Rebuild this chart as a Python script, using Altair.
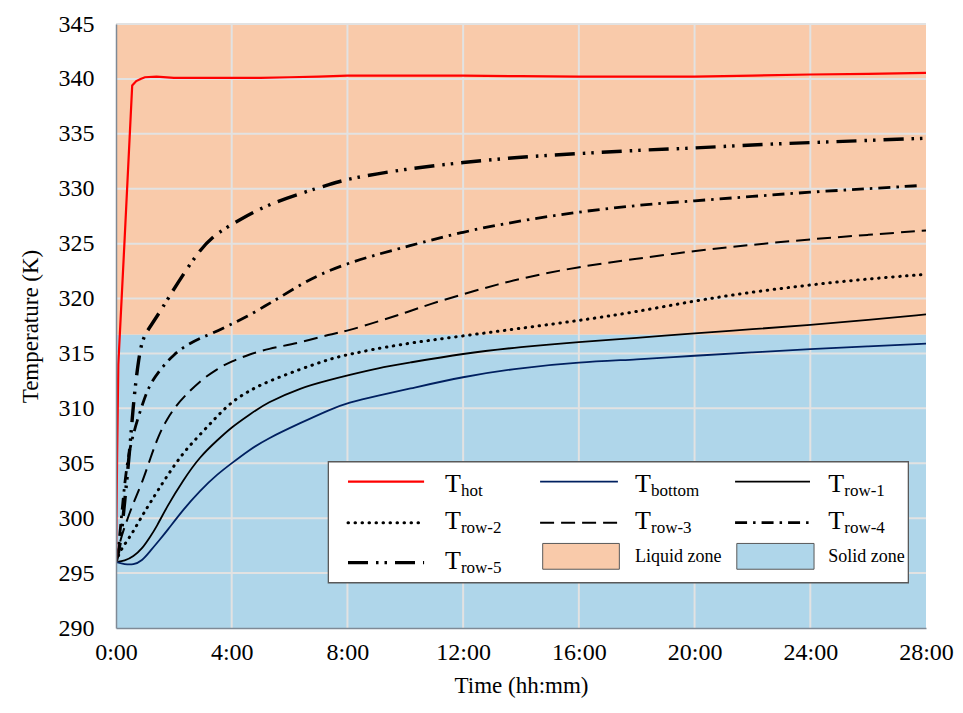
import altair as alt
import pandas as pd

# ---------------- data ----------------
x_ticks = [0, 4, 8, 12, 16, 20, 24, 28]
y_ticks = [290, 295, 300, 305, 310, 315, 320, 325, 330, 335, 340, 345]
x_grid = [4, 8, 12, 16, 20, 24]
y_grid = [295, 300, 305, 310, 315, 320, 325, 330, 335, 340, 345]

zone_names = ["Liquid zone", "Solid zone"]
zone_low = [316.7, 290.0]
zone_high = [345.0, 316.7]

hot_t = [0, 0.04, 0.08, 0.3, 0.56, 0.7, 0.85, 1.0, 1.4, 2, 3, 4, 5, 6, 7, 8, 10, 12, 14, 16, 18, 20, 22, 24, 26, 28]
hot_v = [296.0, 306.0, 314.0, 325.5, 339.4, 339.8, 340.0, 340.15, 340.2, 340.1, 340.1, 340.1, 340.1, 340.15,
         340.2, 340.3, 340.3, 340.3, 340.25, 340.2, 340.2, 340.2, 340.3, 340.4, 340.45, 340.55]

bottom_t = [0, 0.3, 0.6, 0.9, 1.18, 1.5, 1.75, 2.33, 2.9, 3.5, 4.0, 4.6, 5.2, 6.4, 7.4, 8, 9.1, 10, 12, 14, 16, 18, 20, 22, 24, 26, 28]
bottom_v = [296.0, 295.8, 295.75, 296.1, 297.0, 298.0, 298.8, 300.8, 302.5, 304.0, 305.0, 306.2, 307.2, 308.7,
            309.9, 310.5, 311.2, 311.7, 312.9, 313.7, 314.2, 314.45, 314.8, 315.1, 315.4, 315.65, 315.9]

row1_t = [0, 0.3, 0.6, 0.9, 1.18, 1.4, 1.75, 2.33, 2.9, 3.5, 4.0, 4.6, 5.2, 6.4, 7.4, 8, 9.1, 10, 12, 14, 16, 18, 20, 22, 24, 26, 28]
row1_v = [296.0, 296.1, 296.5, 297.2, 298.3, 299.2, 301.0, 303.5, 305.6, 307.1, 308.3, 309.4, 310.5, 311.9,
          312.6, 313.0, 313.7, 314.1, 315.0, 315.6, 316.05, 316.4, 316.85, 317.2, 317.6, 318.05, 318.55]

row2_t = [0, 0.14, 0.35, 0.6, 0.9, 1.18, 1.75, 2.33, 2.9, 3.5, 4.0, 4.6, 5.2, 6.4, 7.4, 8, 9.7, 12, 14.3, 16, 17.8, 20, 22, 24, 26, 28]
row2_v = [296.0, 297.0, 297.8, 298.8, 300.2, 301.4, 303.8, 306.0, 307.6, 309.3, 310.6, 311.6, 312.4, 313.6,
          314.5, 314.9, 315.8, 316.6, 317.4, 318.0, 318.7, 319.8, 320.6, 321.25, 321.8, 322.2]

row3_t = [0, 0.14, 0.35, 0.6, 0.9, 1.18, 1.45, 1.75, 2.1, 2.33, 2.9, 3.5, 4.0, 4.6, 5.2, 6.4, 7.4, 8, 9.1, 10,
          10.85, 12, 13.2, 14.3, 16, 17.8, 20, 22, 24, 26, 28]
row3_v = [296.0, 298.0, 299.6, 301.4, 303.2, 305.4, 307.4, 309.0, 310.3, 311.0, 312.5, 313.6, 314.3, 314.9,
          315.4, 316.0, 316.75, 317.05, 317.95, 318.7, 319.5, 320.4, 321.3, 322.0, 322.9, 323.55, 324.35,
          324.9, 325.4, 325.8, 326.2]

row4_t = [0, 0.1, 0.2, 0.37, 0.6, 0.94, 1.18, 1.64, 2.0, 2.4, 2.9, 3.4, 4.0, 4.5, 5.2, 5.6, 6.4, 7.05, 8, 9,
          10, 12, 14, 16, 18, 20, 22, 24, 26, 27.85]
row4_v = [296.0, 297.5, 300.5, 305.0, 307.8, 310.6, 312.3, 313.9, 314.9, 315.7, 316.4, 316.9, 317.7, 318.3,
          319.4, 320.0, 321.3, 322.2, 323.2, 324.0, 324.7, 326.1, 327.1, 327.9, 328.5, 328.9, 329.3, 329.7,
          330.0, 330.3]

row5_t = [0, 0.15, 0.3, 0.48, 0.6, 0.79, 0.94, 1.2, 1.64, 2.1, 2.9, 3.5, 4.3, 5.2, 6.4, 7.4, 8, 10, 12, 14,
          16, 18, 20, 22, 24, 26, 28]
row5_v = [296.0, 297.5, 301.5, 306.3, 310.5, 314.8, 316.5, 317.5, 319.3, 321.3, 324.5, 326.0, 327.2, 328.5,
          329.6, 330.4, 330.9, 331.8, 332.4, 332.9, 333.2, 333.5, 333.7, 334.0, 334.2, 334.4, 334.6]

# legend layout (in chart data units: hours / kelvin)
leg_box_x = [7.34, 27.39]
leg_box_y = [294.12, 305.14]
leg_col_x0 = [8.02, 14.66, 21.40]
leg_col_x1 = [10.65, 17.35, 23.99]
leg_col_lab = [11.37, 17.94, 24.62]
leg_row_y = [303.32, 299.59, 295.95]
leg_row_base = [302.35, 299.05, 295.4]
leg_patch_y = [295.35, 297.7]

# ---------------- styles ----------------
ORANGE = "#F9CAAA"
BLUE = "#AFD6EA"
FONT = "Liberation Serif"

series = [
    # key, times, values, subscript, legend col,row, color, width, dash, cap
    ("row-5", row5_t, row5_v, "row-5", 0, 2, "black", 3.4, [20, 8, 2.5, 6, 2.5, 8], "butt"),
    ("row-4", row4_t, row4_v, "row-4", 2, 1, "black", 2.8, [12, 6, 2.5, 6], "butt"),
    ("row-3", row3_t, row3_v, "row-3", 1, 1, "black", 2.0, [14, 7], "butt"),
    ("row-2", row2_t, row2_v, "row-2", 0, 1, "black", 3.0, [0.5, 6.5], "round"),
    ("row-1", row1_t, row1_v, "row-1", 2, 0, "black", 1.8, None, "butt"),
    ("bottom", bottom_t, bottom_v, "bottom", 1, 0, "#002060", 1.8, None, "butt"),
    ("hot", hot_t, hot_v, "hot", 0, 0, "#FF0000", 2.2, None, "butt"),
]

XS = alt.Scale(domain=[0, 28], nice=False, zero=False)
YS = alt.Scale(domain=[290, 345], nice=False, zero=False)
XAX = alt.Axis(values=x_ticks, labelExpr="datum.value + ':00'", title="Time (hh:mm)", grid=False,
               ticks=False, labelPadding=12, titlePadding=10, labelFlush=False, zindex=1,
               labelFont=FONT, titleFont=FONT, labelFontSize=24, titleFontSize=23)
YAX = alt.Axis(values=y_ticks, title="Temperature (K)", grid=False, ticks=False,
               labelPadding=22, titlePadding=16, zindex=1,
               labelFont=FONT, titleFont=FONT, labelFontSize=24, titleFontSize=23)


def X(f):
    return alt.X(f, type="quantitative", scale=XS, axis=XAX)


def Y(f):
    return alt.Y(f, type="quantitative", scale=YS, axis=YAX)


zone_color = alt.Color("zone:N", scale=alt.Scale(domain=zone_names, range=[ORANGE, BLUE]), legend=None)

# zones
zones_df = pd.DataFrame({"zone": zone_names, "x0": [x_ticks[0]] * 2, "x1": [x_ticks[-1]] * 2,
                         "lo": zone_low, "hi": zone_high})
zones = alt.Chart(zones_df).mark_rect(strokeWidth=0).encode(
    x=X("x0"), x2="x1", y=Y("lo"), y2="hi", color=zone_color)

# grid
xg = alt.Chart(pd.DataFrame({"x": x_grid})).mark_rule(color="#E2E2E2", strokeWidth=2).encode(x=X("x"))
yg = alt.Chart(pd.DataFrame({"y": y_grid})).mark_rule(color="#E2E2E2", strokeWidth=2).encode(y=Y("y"))

layers = [zones, xg, yg]

for key, ts, vs, sub, c, r, color, w, dash, cap in series:
    df = pd.DataFrame({"t": ts, "v": vs})
    kw = dict(color=color, strokeWidth=w, strokeCap=cap, clip=True)
    if dash:
        kw["strokeDash"] = dash
    interp = "linear" if key == "hot" else "basis"
    layers.append(alt.Chart(df).mark_line(interpolate=interp, **kw).encode(x=X("t"), y=Y("v")))

# legend box
box_df = pd.DataFrame({"x0": [leg_box_x[0]], "x1": [leg_box_x[1]], "y0": [leg_box_y[0]], "y1": [leg_box_y[1]]})
layers.append(alt.Chart(box_df).mark_rect(fill="white", stroke="#595959", strokeWidth=1.3).encode(
    x=X("x0"), x2="x1", y=Y("y0"), y2="y1"))

# legend samples
lab_rows = []
for key, ts, vs, sub, c, r, color, w, dash, cap in series:
    sdf = pd.DataFrame({"x0": [leg_col_x0[c]], "x1": [leg_col_x1[c]], "y": [leg_row_y[r]]})
    kw = dict(color=color, strokeWidth=w, strokeCap=cap)
    if dash:
        kw["strokeDash"] = dash
    layers.append(alt.Chart(sdf).mark_rule(**kw).encode(x=X("x0"), x2="x1", y=Y("y")))
    lab_rows.append({"x": leg_col_lab[c], "y": leg_row_base[r], "main": "T", "sub": sub})

lab_df = pd.DataFrame(lab_rows)
layers.append(alt.Chart(lab_df).mark_text(align="left", baseline="alphabetic", font=FONT, fontSize=26,
                                          color="black").encode(x=X("x"), y=Y("y"), text="main:N"))
layers.append(alt.Chart(lab_df).mark_text(align="left", baseline="alphabetic", font=FONT, fontSize=17,
                                          color="black", dx=16, dy=4).encode(x=X("x"), y=Y("y"), text="sub:N"))

# legend zone patches
patch_df = pd.DataFrame({"zone": zone_names, "x0": [leg_col_x0[1] + 0.09, leg_col_x0[2] + 0.06],
                         "x1": [leg_col_x1[1] + 0.05, leg_col_x1[2] + 0.14],
                         "y0": [leg_patch_y[0]] * 2, "y1": [leg_patch_y[1]] * 2,
                         "lx": [leg_col_lab[1], leg_col_lab[2]], "ly": [leg_row_y[2] + 0.05] * 2})
layers.append(alt.Chart(patch_df).mark_rect(stroke="#595959", strokeWidth=1).encode(
    x=X("x0"), x2="x1", y=Y("y0"), y2="y1", color=zone_color))
layers.append(alt.Chart(patch_df).mark_text(align="left", baseline="alphabetic", font=FONT, fontSize=18,
                                            color="black").encode(x=X("lx"), y=Y("ly"), text="zone:N"))

chart = alt.layer(*layers).properties(
    width=810, height=604,
    autosize=alt.AutoSizeParams(type="none"),
    padding={"left": 116, "top": 24, "right": 37, "bottom": 85},
    background="white",
).configure_view(stroke=None).configure_axis(
    labelFont=FONT, labelFontSize=24, labelColor="black",
    titleFont=FONT, titleFontSize=23, titleFontWeight="normal", titleColor="black",
    domainColor="#7f8a96", domainWidth=1.5,
)

chart.save("out.html", embed_options={"renderer": "svg", "actions": False})
